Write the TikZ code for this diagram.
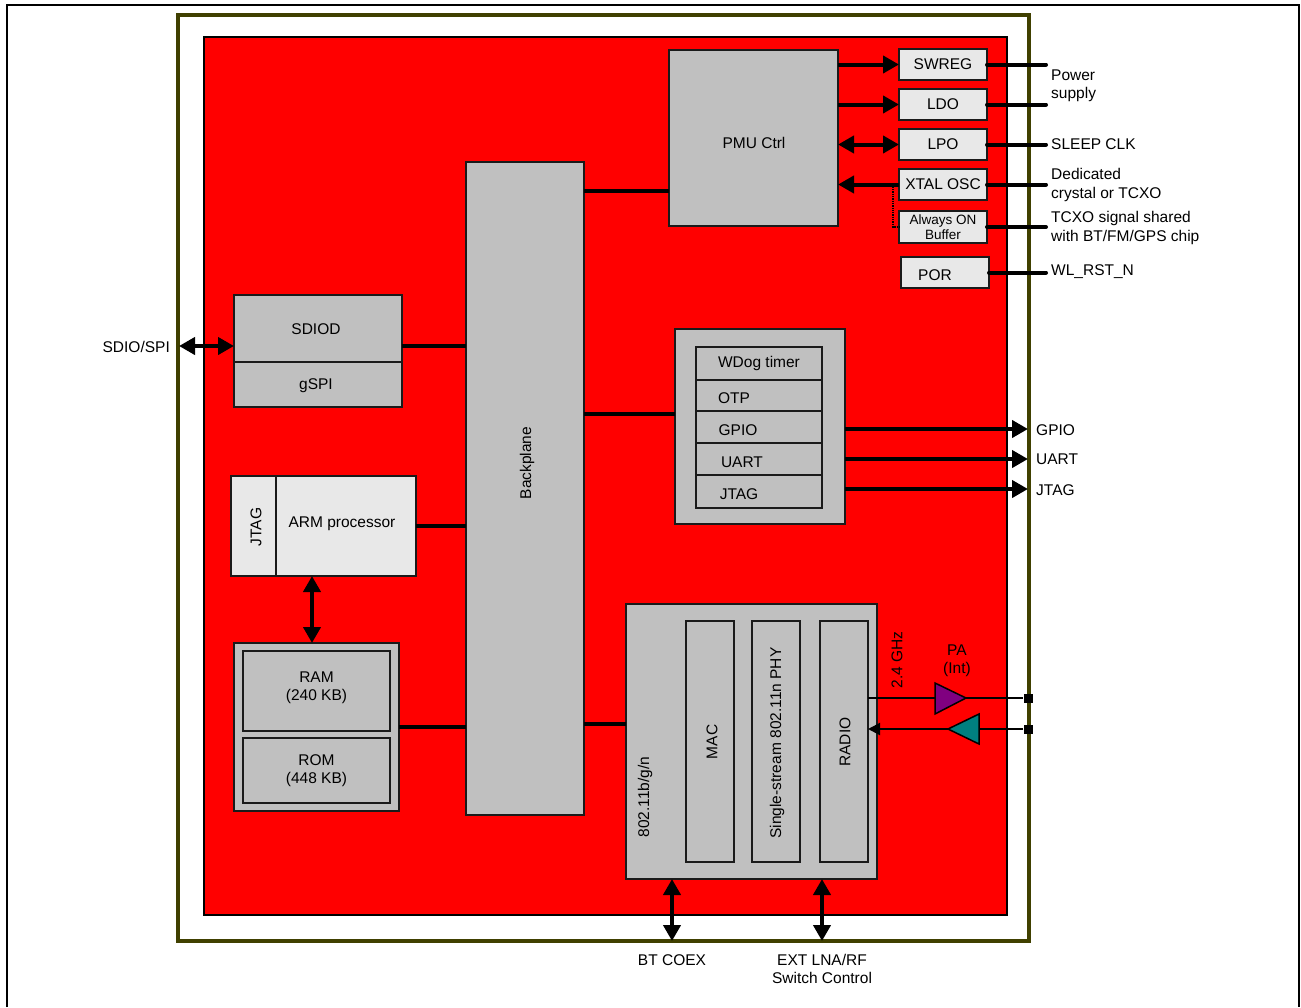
\documentclass[tikz,border=0pt]{standalone}
\usepackage{fontspec}
\setmainfont{Liberation Sans}
\usetikzlibrary{arrows.meta,shapes.geometric}
\definecolor{frameolive}{RGB}{64,64,0}
\definecolor{gfill}{RGB}{192,192,192}
\definecolor{lfill}{RGB}{232,232,232}
\definecolor{chipred}{RGB}{255,0,0}
\definecolor{papurple}{RGB}{128,0,128}
\definecolor{lnateal}{RGB}{0,128,128}
\definecolor{edge}{RGB}{26,26,26}
\begin{document}
\begin{tikzpicture}[x=1pt,y=-1pt,
  font=\fontsize{15.5}{18.5}\selectfont,
  blk/.style={draw=edge, line width=1.8pt, fill=gfill, inner sep=0pt, outer sep=0pt},
  lblk/.style={blk, fill=lfill},
  bus/.style={line width=4pt},
  arr/.style={line width=4pt, -{Triangle[length=16pt,width=17pt]}},
  biarr/.style={line width=4pt, {Triangle[length=16pt,width=17pt]}-{Triangle[length=16pt,width=17pt]}},
  pin/.style={line width=4pt, line cap=round},
  rfline/.style={line width=2pt},
  txt/.style={inner sep=0pt, align=center},
  ltxt/.style={inner sep=0pt, align=left, anchor=west}
]
\useasboundingbox (0,0) rectangle (1301,1007);
% frames
\draw[line width=2.5pt] (7,1007) -- (7,5) -- (1299,5) -- (1299,1007);
\draw[frameolive, line width=4pt] (178,15) rectangle (1029,941);
\draw[fill=chipred, line width=2.5pt] (204,37) rectangle (1007,915);

% PMU section
\node[blk, minimum width=169pt, minimum height=176pt] (pmu) at (753.5,138) {};
\node[txt] (pmutxt) at (754,143) {PMU Ctrl};
\node[lblk, minimum width=88pt, minimum height=31pt] (swreg) at (943,64.5) {SWREG};
\node[lblk, minimum width=88pt, minimum height=31pt] (ldo) at (943,104.5) {LDO};
\node[lblk, minimum width=88pt, minimum height=31pt] (lpo) at (943,144.5) {LPO};
\node[lblk, minimum width=88pt, minimum height=31pt] (xtal) at (943,184.5) {XTAL OSC};
\node[lblk, minimum width=88pt, minimum height=32pt, align=center,
      font=\fontsize{13.5}{15.5}\selectfont] (aon) at (943,227) {Always ON\\Buffer};
\node[lblk, minimum width=88pt, minimum height=31pt] (por) at (945,272.5) {};
\node[txt] (portxt) at (935,275) {POR};

\draw[arr] (pmu.east |- swreg) -- (swreg.west);
\draw[arr] (pmu.east |- ldo) -- (ldo.west);
\draw[biarr] (pmu.east |- lpo) -- (lpo.west);
\draw[arr] (xtal.west) -- (pmu.east |- xtal);
\draw[densely dotted, line width=1.3pt] ([xshift=-6pt]xtal.west) |- (aon.west);

\coordinate (pinx) at (1046,0);
\foreach \n in {swreg,ldo,lpo,xtal,aon,por}{
  \draw[pin] (\n.east) -- (\n.east -| pinx);
}
\node[ltxt] (lpow) at (1051,86) {Power\\supply};
\node[ltxt] (lslp) at (1051,144) {SLEEP CLK};
\node[ltxt] (lded) at (1051,185) {Dedicated\\crystal or TCXO};
\node[ltxt] (ltcx) at (1051,228) {TCXO signal shared\\with BT/FM/GPS chip};
\node[ltxt] (lrst) at (1051,272) {WL\_RST\_N};

% Backplane
\node[blk, minimum width=118pt, minimum height=653pt] (bp) at (525,488.5) {};
\node[txt, rotate=90] (bptxt) at (527,463) {Backplane};
\coordinate (ypmu) at (0,191);
\draw[bus] (bp.east |- ypmu) -- (pmu.west |- ypmu);

% SDIOD / gSPI
\node[blk, minimum width=168pt, minimum height=67pt] (sdiod) at (318,328.5) {};
\node[txt] (sdiodtxt) at (316,329) {SDIOD};
\node[blk, minimum width=168pt, minimum height=45pt] (gspi) at (318,384.5) {};
\node[txt] (gspitxt) at (316,386) {gSPI};
\coordinate (sdioend) at (179,346);
\node[txt, anchor=east] (lsdio) at (170,347) {SDIO/SPI};
\draw[biarr] (sdioend) -- (sdiod.west |- sdioend);
\draw[bus] (sdiod.east |- sdioend) -- (bp.west |- sdioend);

% ARM
\node[lblk, minimum width=45pt, minimum height=100pt] (jtg) at (253.5,526) {};
\node[txt, rotate=90] (jtgtxt) at (256,527) {JTAG};
\node[lblk, minimum width=140pt, minimum height=100pt] (arm) at (346,526) {};
\node[txt] (armtxt) at (342,524) {ARM processor};
\draw[bus] (arm.east) -- (bp.west |- arm.east);
\coordinate (armram) at (312,0);

% Memory
\node[blk, minimum width=165pt, minimum height=168pt] (mem) at (316.5,727) {};
\node[blk, minimum width=147pt, minimum height=80pt] (ram) at (316.5,691) {};
\node[txt] (ramtxt) at (316.5,688) {RAM\\(240 KB)};
\node[blk, minimum width=147pt, minimum height=65pt, align=center] (rom) at (316.5,770.5) {ROM\\(448 KB)};
\draw[biarr] (arm.south -| armram) -- (mem.north -| armram);
\draw[bus] (mem.east) -- (bp.west |- mem.east);

% Peripherals
\node[blk, minimum width=170pt, minimum height=195pt] (per) at (760,426.5) {};
\node[blk, minimum width=126pt, minimum height=33pt] (rwd) at (759,363.5) {WDog timer};
\node[blk, minimum width=126pt, minimum height=31pt] (rotp) at (759,395.5) {};
\node[blk, minimum width=126pt, minimum height=32pt] (rgpio) at (759,427) {};
\node[blk, minimum width=126pt, minimum height=32pt] (ruart) at (759,459) {};
\node[blk, minimum width=126pt, minimum height=33pt] (rjtag) at (759,491.5) {};
\node[txt] (totp) at (734,398) {OTP};
\node[txt] (tgpio) at (738,430) {GPIO};
\node[txt] (tuart) at (742,462) {UART};
\node[txt] (tjtag) at (739,494) {JTAG};
\coordinate (yper) at (0,414);
\draw[bus] (bp.east |- yper) -- (per.west |- yper);
\coordinate (outx) at (1028,0);
\coordinate (ygp) at (0,429);
\coordinate (yua) at (0,459);
\coordinate (yjt) at (0,489);
\draw[arr] (per.east |- ygp) -- (outx |- ygp);
\draw[arr] (per.east |- yua) -- (outx |- yua);
\draw[arr] (per.east |- yjt) -- (outx |- yjt);
\node[ltxt] (lgpio) at (1036,430) {GPIO};
\node[ltxt] (luart) at (1036,459) {UART};
\node[ltxt] (ljtag) at (1036,490) {JTAG};

% Wireless
\node[blk, minimum width=251pt, minimum height=275pt] (wl) at (751.5,741.5) {};
\node[txt, rotate=90] (wltxt) at (645,797) {802.11b/g/n};
\node[blk, minimum width=48pt, minimum height=241pt] (mac) at (710,741.5) {};
\node[blk, minimum width=48pt, minimum height=241pt] (phy) at (776,741.5) {};
\node[blk, minimum width=48pt, minimum height=241pt] (radio) at (844,741.5) {};
\node[txt, rotate=90] (mactxt) at (712,742) {MAC};
\node[txt, rotate=90] (phytxt) at (777,743) {Single-stream 802.11n PHY};
\node[txt, rotate=90] (radtxt) at (845,742) {RADIO};
\coordinate (ywl) at (0,724);
\draw[bus] (bp.east |- ywl) -- (wl.west |- ywl);

% RF
\node[txt, rotate=90] (ghz) at (897,660) {2.4 GHz};
\node[txt] (pa) at (957,661) {PA\\(Int)};
\node[fill=black, minimum size=9pt, inner sep=0pt] (sq1) at (1028,698) {};
\node[fill=black, minimum size=9pt, inner sep=0pt] (sq2) at (1028,729) {};
\draw[rfline] (radio.east |- sq1) -- (sq1);
\draw[rfline, -{Triangle[length=12pt,width=12pt]}] (sq2) -- (radio.east |- sq2);
\draw[fill=papurple, line width=1.5pt, line join=miter] (935,683) -- (966,698) -- (935,714) -- cycle;
\draw[fill=lnateal, line width=1.5pt, line join=miter] (979,714) -- (948,729) -- (979,744) -- cycle;

% bottom
\coordinate (btc) at (672,941);
\coordinate (lna) at (822,941);
\draw[biarr] (wl.south -| btc) -- (btc);
\draw[biarr] (wl.south -| lna) -- (lna);
\node[txt] (lbtc) at (672,960) {BT COEX};
\node[txt] (llna) at (822,969) {EXT LNA/RF\\Switch Control};
\end{tikzpicture}
\end{document}
